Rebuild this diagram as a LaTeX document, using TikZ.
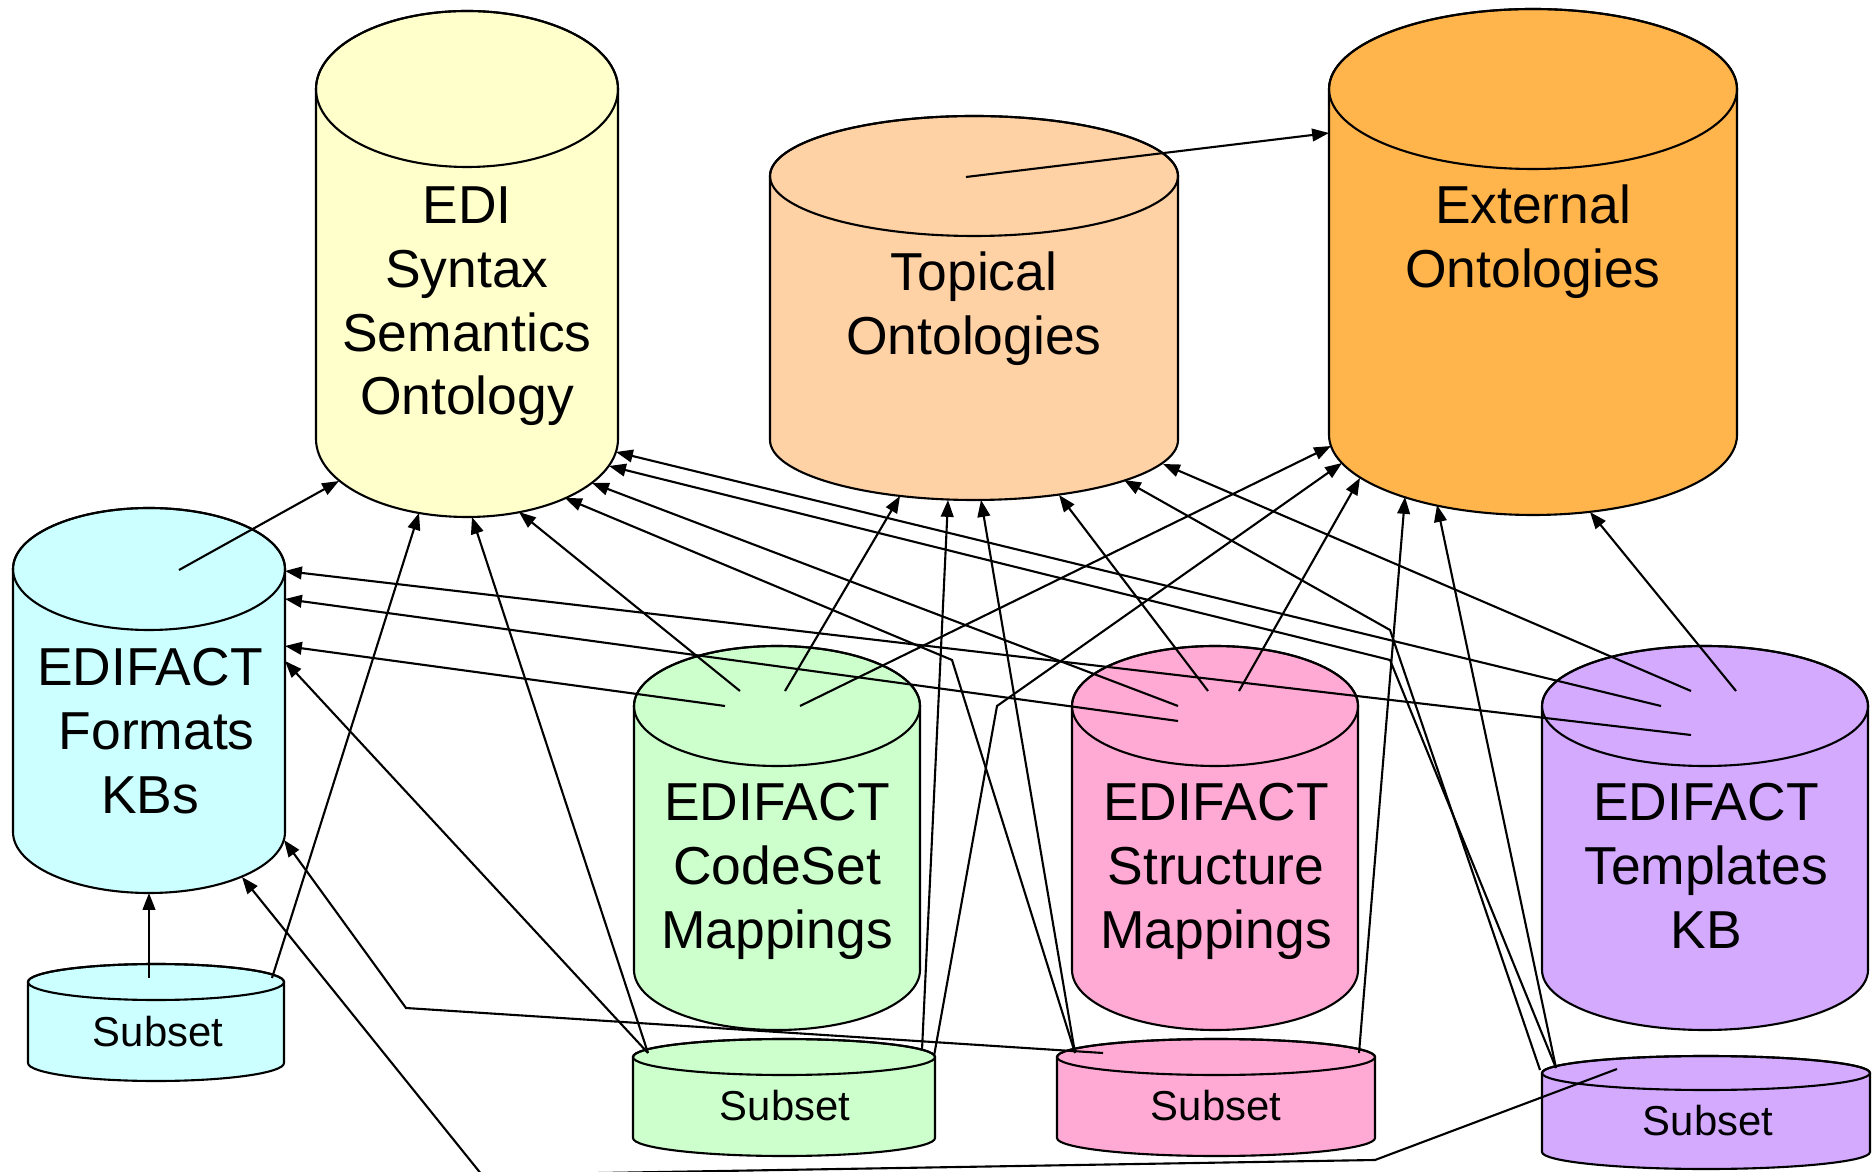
\documentclass[tikz,border=0pt]{standalone}
\usepackage{fontspec}
\setmainfont{Liberation Sans}
\usetikzlibrary{arrows.meta}
\definecolor{SynYellow}{HTML}{FFFFCC}
\definecolor{TopPeach}{HTML}{FFD2A5}
\definecolor{ExtOrange}{HTML}{FFB44C}
\definecolor{FmtCyan}{HTML}{CCFFFF}
\definecolor{CodeGreen}{HTML}{CCFFCC}
\definecolor{StrPink}{HTML}{FFAAD4}
\definecolor{TplPurple}{HTML}{D4AAFF}

% database can: centre x, y of top face, y of bottom face, x radius, y radius, fill
\newcommand{\dbcan}[6]{%
  \filldraw[can,fill=#6] ({#1-#4},#2) -- ({#1-#4},#3)
    arc[start angle=180,end angle=0,x radius=#4,y radius=#5]
    -- ({#1+#4},#2)
    arc[start angle=0,end angle=-180,x radius=#4,y radius=#5] -- cycle;
  \draw[can] (#1,#2) ellipse [x radius=#4,y radius=#5];
}

\begin{document}
\begin{tikzpicture}[x=0.1mm,y=-0.1mm,
  can/.style={draw=black,line width=0.6pt},
  bigtxt/.style={align=center,anchor=base,text width=60mm,inner sep=0pt,
    font=\fontsize{15.2pt}{18.1pt}\selectfont},
  subtxt/.style={anchor=base,inner sep=0pt,font=\fontsize{11.9pt}{14pt}\selectfont},
  arr/.style={-{Triangle[length=4.8pt,width=3.6pt]},line width=0.6pt}]
  \useasboundingbox (0,0) rectangle (1872,1172);

  % knowledge bases
  \dbcan{467}{89}{439}{151}{78}{SynYellow}
  \dbcan{974}{176}{440}{204}{60}{TopPeach}
  \dbcan{1533}{89}{435}{204}{80}{ExtOrange}
  \dbcan{149}{569}{832}{136}{61}{FmtCyan}
  \dbcan{777}{706}{970}{143}{60}{CodeGreen}
  \dbcan{1215}{706}{970}{143}{60}{StrPink}
  \dbcan{1705}{706}{970}{163}{60}{TplPurple}
  % subsets
  \dbcan{156}{982}{1063}{128}{18}{FmtCyan}
  \dbcan{784}{1057}{1138}{151}{18}{CodeGreen}
  \dbcan{1216}{1057}{1138}{159}{18}{StrPink}
  \dbcan{1706}{1073}{1152}{164}{17}{TplPurple}

  \node[bigtxt] (syn) at (467,224) {EDI\\Syntax\\Semantics\\Ontology};
  \node[bigtxt] (topical) at (974,291) {Topical\\Ontologies};
  \node[bigtxt] (external) at (1533,224) {External\\Ontologies};
  \node[bigtxt] (formats) at (150,686) {EDIFACT\\\hspace{0.25em}Formats\\KBs};
  \node[bigtxt] (codeset) at (777,821) {EDIFACT\\CodeSet\\Mappings};
  \node[bigtxt] (structure) at (1216,821) {EDIFACT\\Structure\\Mappings};
  \node[bigtxt] (templates) at (1706,821) {EDIFACT\\Templates\\KB};
  \node[subtxt] (fsub) at (158,1046) {Subset};
  \node[subtxt] (csub) at (785,1120) {Subset};
  \node[subtxt] (ssub) at (1216,1120) {Subset};
  \node[subtxt] (tsub) at (1708,1135) {Subset};

  % connector ends on the top faces
  \foreach \n/\x/\y in {tp0/966/177, fm0/179/570,
      cs1/740/691, cs2/785/691, cs3/725/706, cs4/800/706,
      st1/1208/691, st2/1239/691, st3/1178/706, st4/1178/721,
      tk1/1691/691, tk2/1736/691, tk3/1661/706, tk4/1691/735,
      fs1/149/978, fs2/272/978,
      cb1/648/1053, cb2/922/1050, cb3/934/1056,
      sb1/1075/1053, sb2/1103/1053, sb3/1359/1053,
      tb1/1540/1070, tb2/1556/1068, tb3/1617/1069}
    \coordinate (\n) at (\x,\y);
  % bends
  \foreach \n/\x/\y in {bA/952/660, bB/997/706, bC/406/1008, bD/1390/630,
      bE/1390/660, bF/1375/1160, bG/482/1175}
    \coordinate (\n) at (\x,\y);
  % arrow tips
  \foreach \n/\x/\y in {
      syn1/339/481, syn2/419/513, syn3/472/517, syn4/519/512,
      syn5/565/498, syn6/592/483, syn7/609/466, syn8/616/452,
      top1/900/496, top2/948/500, top3/981/500, top4/1059/495,
      top5/1124/480, top6/1163/464,
      ext0/1329/133, ext1/1331/446, ext2/1342/463, ext3/1360/478,
      ext4/1405/497, ext5/1437/505, ext6/1590/512,
      fmt1/285/571, fmt2/285/599, fmt3/285/646, fmt4/285/661,
      fmt5/284/840, fmt6/242/877, fmt7/149/893}
    \coordinate (\n) at (\x,\y);

  % straight links
  \foreach \a/\b in {tp0/ext0, fm0/syn1, fs1/fmt7, fs2/syn2,
      cb1/syn3, cb1/fmt4, cs1/syn4, cs2/top1, cs3/fmt3, cs4/ext1,
      cb2/top2, sb1/top3, sb3/ext4,
      st1/top4, st2/ext3, st3/syn6, st4/fmt2,
      tk1/top6, tk2/ext6, tk3/syn8, tk4/fmt1, tb2/ext5}
    \draw[arr] (\a) -- (\b);
  % bent links
  \draw[arr] (cb3) -- (bB) -- (ext2);
  \draw[arr] (sb1) -- (bA) -- (syn5);
  \draw[arr] (sb2) -- (bC) -- (fmt5);
  \draw[arr] (tb1) -- (bD) -- (top5);
  \draw[arr] (tb2) -- (bE) -- (syn7);
  \draw[arr] (tb3) -- (bF) -- (bG) -- (fmt6);
\end{tikzpicture}
\end{document}
